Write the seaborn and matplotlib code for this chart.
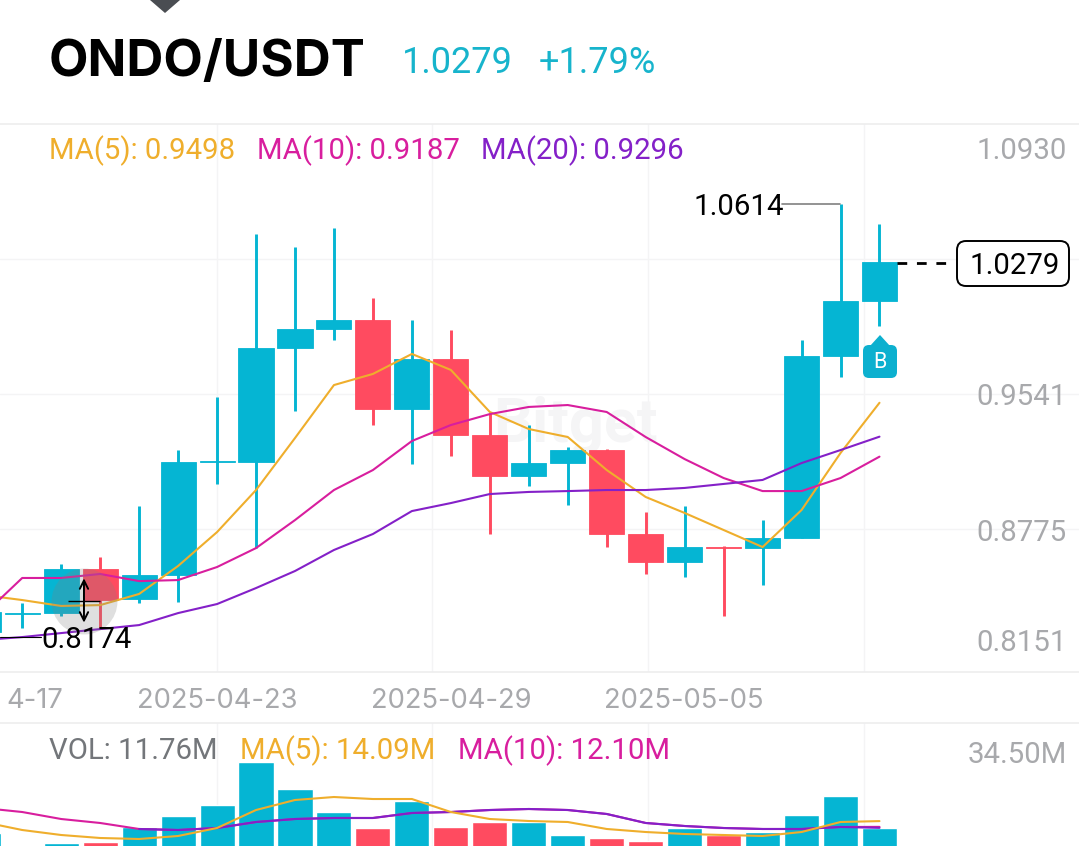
import numpy as np
import pandas as pd
import seaborn as sns
import matplotlib.pyplot as plt
from matplotlib.patches import FancyBboxPatch, Polygon

dates = ['04-17', '04-18', '04-19', '04-20', '04-21', '04-22', '04-23', '04-24',
         '04-25', '04-26', '04-27', '04-28', '04-29', '04-30', '05-01', '05-02',
         '05-03', '05-04', '05-05', '05-06', '05-07', '05-08', '05-09', '05-10']
open_p = [.8151, .8255, .8260, .8513, .8341, .8479, .9129, .9129, .9785, .9895, .9946, .9434,
          .9722, .9285, .9049, .9123, .9198, .8715, .8554, .8640, .8634, .8692, .9739, 1.0056]
close_p = [.8266, .8260, .8513, .8335, .8479, .9129, .9135, .9785, .9895, .9946, .9434, .9722,
           .9285, .9049, .9123, .9198, .8715, .8554, .8640, .8634, .8692, .9739, 1.0056, 1.0279]
high_p = [.8318, .8318, .8542, .8583, .8876, .9198, .9503, 1.0441, 1.0367, 1.0476, 1.0073, .9946,
          .9889, .9411, .9342, .9216, .9204, .8841, .8876, .8646, .8795, .9831, 1.0614, 1.0499]
low_p = [.8105, .8174, .8243, .8174, .8318, .8324, .9003, .8634, .9423, .9831, .9342, .9118,
         .9164, .8715, .8991, .8882, .8640, .8485, .8467, .8243, .8421, .8692, .9618, .9912]
ma5 = [.8364, .8335, .8301, .8306, .8370, .8531, .8726, .8968, .9267, .9572, .9636, .9751,
       .9659, .9417, .9319, .9273, .9083, .8928, .8836, .8738, .8640, .8853, .9181, .9470]
ma10 = [.8249, .8462, .8462, .8485, .8444, .8450, .8525, .8634, .8795, .8968, .9083, .9250,
        .9342, .9405, .9446, .9457, .9417, .9273, .9146, .9037, .8962, .8962, .9037, .9160]
ma20 = [.8105, .8122, .8145, .8168, .8191, .8260, .8312, .8404, .8502, .8623, .8715, .8847,
        .8893, .8945, .8957, .8962, .8968, .8968, .8980, .9003, .9026, .9123, .9198, .9275]
volume = [10.0, 4.5, 6.5, 6.9, 12.06, 15.8, 19.6, 34.5, 25.1, 17.2, 11.7, 21.0,
          12.1, 13.8, 13.8, 9.3, 8.3, 7.2, 11.7, 9.3, 10.3, 16.2, 22.7, 11.76]
vol_ma5 = [13.78, 11.02, 9.30, 8.27, 7.92, 8.96, 11.71, 17.91, 21.36, 22.39, 21.70, 21.70,
           17.22, 14.81, 14.12, 13.78, 11.37, 10.33, 9.65, 9.30, 8.96, 10.33, 13.78, 14.09]
vol_ma10 = [18.60, 17.22, 14.81, 13.44, 11.37, 11.02, 11.71, 13.78, 14.81, 15.16, 15.16, 16.88,
            17.22, 17.91, 18.26, 17.91, 16.54, 13.44, 12.40, 11.71, 11.37, 11.37, 12.06, 12.10]
vol_ma20 = [np.nan, np.nan, np.nan, np.nan, 11.37, 11.02, 11.71, 13.78, 14.81, 15.16, 15.16, 16.88,
            17.22, 17.91, 18.26, 17.91, 16.54, 13.44, 12.40, 11.71, 11.37, 11.37, 12.06, 11.76]

TEAL = '#05B5D3'
RED = '#FF4B60'
ORANGE = '#EFAE2C'
MAGENTA = '#D81E9E'
PURPLE = '#8420C8'
GREY = '#A8A9AC'
GRID = '#F4F4F5'
FS = 21.2

sns.set_theme(style='white')
plt.rcParams['font.family'] = ['Roboto', 'DejaVu Sans']

df = pd.DataFrame({'day': np.arange(len(dates)), 'open': open_p, 'close': close_p,
                   'high': high_p, 'low': low_p, 'ma5': ma5, 'ma10': ma10, 'ma20': ma20,
                   'volume': volume, 'vol_ma5': vol_ma5, 'vol_ma10': vol_ma10, 'vol_ma20': vol_ma20})
df['dir'] = np.where(df['close'] >= df['open'], 'up', 'down')
palette = {'up': TEAL, 'down': RED}

W, H = 1079, 846
fig = plt.figure(figsize=(W / 100, H / 100), dpi=100)
ax = fig.add_axes([0, 1 - 672 / H, 1, (672 - 124) / H])
ax_vol = fig.add_axes([0, 0, 1, (846 - 723) / H])
top = fig.add_axes([0, 0, 1, 1])
top.set_xlim(0, W)
top.set_ylim(H, 0)
top.patch.set_alpha(0)
top.set_axis_off()

# Candles
colors = df['dir'].map(palette)
ax.vlines(df['day'], df['low'], df['high'], color=colors, lw=2.1, zorder=2)
ax.bar(df['day'], df['close'] - df['open'], bottom=df['open'], width=0.9,
       color=colors, edgecolor=colors, lw=0.6, zorder=3)

# Moving averages
for col, c in [('ma5', ORANGE), ('ma10', MAGENTA), ('ma20', PURPLE)]:
    sns.lineplot(data=df, x='day', y=col, color=c, lw=1.5, estimator=None, ax=ax, zorder=4)

# Volume
sns.barplot(data=df, x='day', y='volume', hue='dir', palette=palette, dodge=False, saturation=1,
            native_scale=True, width=0.9, legend=False, ax=ax_vol, zorder=2)
for col, c in [('vol_ma10', MAGENTA), ('vol_ma20', PURPLE), ('vol_ma5', ORANGE)]:
    sns.lineplot(data=df, x='day', y=col, color=c, lw=1.5, estimator=None, ax=ax_vol, zorder=4)

xlim = (0.43, 28.12)
for a in (ax, ax_vol):
    a.set_xlim(*xlim)
    a.set_axis_off()
    for gx in (6, 11.52, 17.06, 22.6):
        a.axvline(gx, color=GRID, lw=1, zorder=0)
ax.set_ylim(.7921, 1.1074)
ax_vol.set_ylim(5.51, 47.89)
for gy in (1.0298, .9521, .8744):
    ax.axhline(gy, color=GRID, lw=1, zorder=0)

ax.text(15.2, .9340, 'Bitget', color='#F5F5F6', fontsize=44, fontweight='bold',
        ha='center', va='center', zorder=1)

# Cursor on the chart
ax.scatter([2.585], [.8329], s=2250, color='#808080', alpha=0.25, lw=0, zorder=5)
ax.hlines(.8329, 2.18, 3.0, color='black', lw=1, zorder=6)
arrow = dict(arrowstyle='->', color='black', lw=1.4, shrinkA=0, shrinkB=0, mutation_scale=15)
ax.annotate('', xy=(2.585, .8460), xytext=(2.585, .8329), zorder=6, arrowprops=arrow)
ax.annotate('', xy=(2.585, .8205), xytext=(2.585, .8329), zorder=6, arrowprops=arrow)

# Header
top.add_patch(Polygon([(150, 0), (180, 0), (165, 13)], color='#4A4D52', lw=0))
top.text(49, 63, 'ONDO/USDT', fontsize=36.8, fontweight='bold', color='black', va='center',
         family=['Inter', 'DejaVu Sans'])
top.text(402, 63, '1.0279', fontsize=26, color='#17B4CC', va='center')
top.text(539, 63, '+1.79%', fontsize=26, color='#17B4CC', va='center')
for y0 in (124, 672, 723):
    top.plot([0, W], [y0, y0], color='#EDEDEE', lw=1.2)

# Legends
for x0, txt, c in [(49, 'MA(5): 0.9498', ORANGE), (257, 'MA(10): 0.9187', MAGENTA),
                   (481, 'MA(20): 0.9296', PURPLE)]:
    top.text(x0, 151, txt, fontsize=FS, color=c, va='center')
for x0, txt, c in [(49, 'VOL: 11.76M', '#73767A'), (240, 'MA(5): 14.09M', ORANGE),
                   (458, 'MA(10): 12.10M', MAGENTA)]:
    top.text(x0, 751, txt, fontsize=FS, color=c, va='center')

# Axis labels
for y0, txt in [(151, '1.0930'), (397, '0.9541'), (533, '0.8775'), (643, '0.8151'), (755, '34.50M')]:
    top.text(1067, y0, txt, fontsize=FS, color=GREY, va='center', ha='right')
for x0, txt, ha in [(63, '4-17', 'right'), (217, '2025-04-23', 'center'),
                    (451, '2025-04-29', 'center'), (684, '2025-05-05', 'center')]:
    top.text(x0, 701, txt, fontsize=19.7, color=GREY, va='center', ha=ha,
             family=['Inter', 'DejaVu Sans'])

# Price callouts
top.text(693, 207, '1.0614', fontsize=FS, color='black', va='center')
top.plot([782, 840], [204, 204], color='#808080', lw=1.2)
top.plot([0, 41], [637, 637], color='black', lw=0.8)
top.text(41, 640, '0.8174', fontsize=FS, color='black', va='center')
top.plot([897, 955], [263, 263], color='black', lw=2, dashes=(3.5, 3.5))
top.add_patch(FancyBboxPatch((963, 247), 100, 33, boxstyle='round,pad=6,rounding_size=9',
                             fc='white', ec='black', lw=1.4, zorder=5))
top.text(1015, 266, '1.0279', fontsize=FS, color='black', va='center', ha='center', zorder=6)

# Buy marker
top.add_patch(FancyBboxPatch((867, 349), 26, 25, boxstyle='round,pad=4,rounding_size=6',
                             fc='#0CB0CF', ec='none', zorder=5))
top.add_patch(Polygon([(870, 346), (880, 335), (890, 346)], color='#0CB0CF', lw=0, zorder=5))
top.text(880, 363, 'B', fontsize=15.5, color='white', va='center', ha='center', zorder=6)

fig.savefig('out.png', dpi=100, facecolor='white')
